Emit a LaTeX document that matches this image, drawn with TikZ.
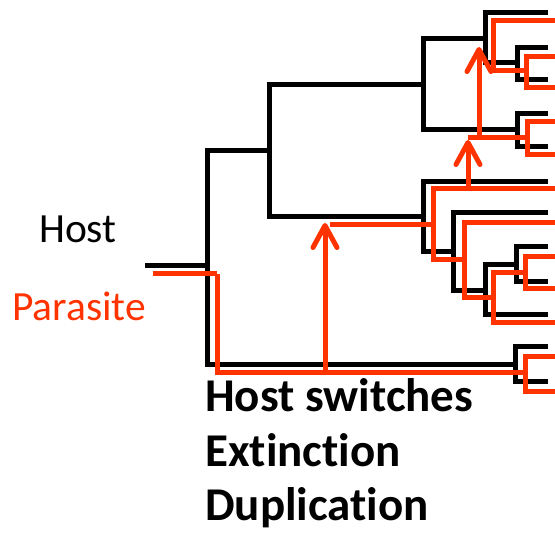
\documentclass[tikz,border=0pt]{standalone}
\usepackage{fontspec}
\setmainfont{Carlito}[Ligatures=NoCommon]
\usetikzlibrary{arrows.meta}
\definecolor{parasite}{RGB}{255,51,0}
\begin{document}
\begin{tikzpicture}[x=1pt,y=-1pt,
  host/.style={line width=5pt,black},
  para/.style={line width=5pt,parasite},
  switch/.style={para,-{Straight Barb[length=22pt,width=24pt,round]}},
  keytext/.style={inner sep=0pt,anchor=base west,font=\fontsize{41.5}{50}\selectfont},
  legend/.style={inner sep=0pt,anchor=base west,font=\fontsize{47}{56}\selectfont\bfseries},
]
\useasboundingbox (0,0) rectangle (555,534);

% ---------- host tree ----------
\coordinate (hs) at (145,266);
\coordinate (hroot) at (207,266);
\coordinate (hA) at (269,151);
\coordinate (hB) at (423,85);
\coordinate (hC) at (485,39);
\coordinate (hD) at (517,63);
\coordinate (hE) at (517,130);
\coordinate (hF) at (423,217);
\coordinate (hG) at (453,252);
\coordinate (hI) at (485,291);
\coordinate (hJ) at (516,265);
\coordinate (hK) at (515,365);
\coordinate (hl1) at (548,13);
\coordinate (hl2) at (548,48);
\coordinate (hl3) at (548,80);
\coordinate (hl4) at (548,114);
\coordinate (hl5) at (548,147);
\coordinate (hl6) at (548,182);
\coordinate (hl7) at (548,213);
\coordinate (hl8) at (548,247);
\coordinate (hl9) at (548,282);
\coordinate (hl10) at (548,315);
\coordinate (hl11) at (548,347);
\coordinate (hl12) at (548,382);

\draw[host] (hs) -- (hroot);
\foreach \p/\c in {hroot/hA, hroot/hK, hA/hB, hA/hF, hB/hC, hB/hE,
                   hC/hl1, hC/hD, hD/hl2, hD/hl3, hE/hl4, hE/hl5,
                   hF/hl6, hF/hG, hG/hl7, hG/hI, hI/hJ, hI/hl10,
                   hJ/hl8, hJ/hl9, hK/hl11, hK/hl12}
  \draw[host] (\p) |- (\c);

% ---------- parasite tree ----------
\coordinate (ps) at (153,274);
\coordinate (proot) at (217,274);
\coordinate (pK) at (525,373);
\coordinate (s1a) at (325,373);
\coordinate (s1b) at (325,223);
\coordinate (p1) at (330,225);
\coordinate (pF) at (433,225);
\coordinate (pG) at (464,260);
\coordinate (pI) at (493,298);
\coordinate (pJ) at (525,273);
\coordinate (s2a) at (468,189);
\coordinate (s2b) at (468,140);
\coordinate (p2) at (468,138);
\coordinate (pE) at (527,138);
\coordinate (s3a) at (479,138);
\coordinate (s3b) at (479,47);
\coordinate (pC) at (493,71);
\coordinate (pD) at (526,71);
\coordinate (pl1) at (555,21);
\coordinate (pl2) at (555,57);
\coordinate (pl3) at (555,88);
\coordinate (pl4) at (555,122);
\coordinate (pl5) at (555,155);
\coordinate (pl6) at (555,189);
\coordinate (pl7) at (555,223);
\coordinate (pl8) at (555,257);
\coordinate (pl9) at (555,289);
\coordinate (pl10) at (555,323);
\coordinate (pl11) at (555,357);
\coordinate (pl12) at (555,392);

\draw[para] (ps) -- (proot);
\draw[para] (p1) -- (pF);
\draw[para] (p2) -- (pE);
\draw[para] (pl1) -| (pC) -- (pD);
\foreach \p/\c in {proot/pK, pK/pl11, pK/pl12,
                   pF/pl6, pF/pG, pG/pl7, pG/pI, pI/pJ, pI/pl10,
                   pJ/pl8, pJ/pl9, pE/pl4, pE/pl5, pD/pl2, pD/pl3}
  \draw[para] (\p) |- (\c);

% host switches
\draw[switch] (s1a) -- (s1b);
\draw[switch] (s2a) -- (s2b);
\draw[switch] (s3a) -- (s3b);

% ---------- labels ----------
\node[keytext] (hostlbl) at (39,243) {Host};
\node[keytext,text=parasite] (paralbl) at (12,321) {Parasite};
\node[legend] (ev1) at (205,412) {Host switches};
\node[legend] (ev2) at (205,467) {Extinction};
\node[legend] (ev3) at (205,521) {Duplication};
\end{tikzpicture}
\end{document}
